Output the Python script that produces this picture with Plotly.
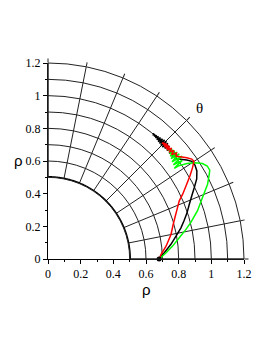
import numpy as np
import plotly.graph_objects as go

# ---- data (rho, theta in degrees) ----
black_theta = [0, 3.1, 6.8, 10.1, 13.2, 15.6, 18.2, 21.2, 23.9, 26.05, 28.3, 30.6, 32.6, 34.2, 35.5, 37.0, 38.3,
               39.0, 39.7, 40.4, 41.1, 41.8, 42.4, 43.0, 43.5, 44.0, 44.4, 44.8, 45.2, 45.6, 46.0, 46.4,
               46.8, 47.2, 47.6, 48.0, 48.4, 48.75, 49.1, 49.4, 49.7, 49.9, 50.1]
black_rho = [0.680, 0.713, 0.758, 0.796, 0.836, 0.864, 0.895, 0.928, 0.964, 0.997, 1.034, 1.059, 1.068, 1.064, 1.044, 1.014, 0.988,
             1.015, 0.985, 1.015, 0.985, 1.015, 0.986, 1.015, 0.985, 1.02, 0.98, 1.022, 0.98, 1.02, 0.983, 1.016,
             0.986, 1.013, 0.989, 1.01, 0.992, 1.007, 0.994, 1.005, 0.997, 1.002, 1.0]

red_theta = [0, 2.4, 6.2, 11.3, 15.0, 18.5, 20.5, 23.9, 25.7, 27.9, 30.4, 32.3, 33.8, 34.8, 36.1, 37.7, 38.7,
             39.5, 40.2, 40.8, 41.4, 41.9, 42.4, 42.8, 43.2, 43.55, 43.9, 44.2, 44.5, 44.75, 45.0, 45.2, 45.35, 45.5]
red_rho = [0.680, 0.693, 0.727, 0.768, 0.792, 0.821, 0.841, 0.879, 0.915, 0.956, 1.008, 1.047, 1.075, 1.072, 1.052, 1.023, 1.005,
           1.02, 0.99, 1.018, 0.99, 1.016, 0.99, 1.015, 0.99, 1.014, 0.991, 1.012, 0.993, 1.008, 0.996, 1.004, 0.998, 1.0]

green_theta = [0, 3.0, 5.9, 9.2, 12.1, 14.4, 17.9, 21.7, 25.1, 27.7, 28.8, 30.3, 31.7, 33.2, 34.5, 35.5, 35.7,
               36.3, 36.9, 37.5, 38.1, 38.7, 39.2, 39.7, 40.1, 40.5, 40.85, 41.15, 41.4, 41.65, 41.85, 42.0, 42.15, 42.3]
green_rho = [0.680, 0.724, 0.767, 0.814, 0.864, 0.903, 0.962, 1.018, 1.079, 1.115, 1.130, 1.129, 1.112, 1.075, 1.032, 0.982, 0.952,
             1.02, 0.96, 1.035, 0.965, 1.03, 0.972, 1.025, 0.978, 1.02, 0.985, 1.015, 0.99, 1.011, 0.993, 1.007, 0.997, 1.005]

start_rho = [0.68]
start_theta = [0]

inner_rho = 0.5
rho_range = [0.5, 1.2]
theta_step = 11.25
tick_vals = [0, 0.2, 0.4, 0.6, 0.8, 1, 1.2]
minor_vals = [0.1, 0.3, 0.5, 0.7, 0.9, 1.1]

fig = go.Figure()

# invisible trace to create cartesian axes
fig.add_trace(go.Scatter(x=[None], y=[None], showlegend=False, hoverinfo="skip"))

circ_theta = np.linspace(0, 90, 181)
fig.add_trace(go.Scatterpolar(r=np.full(circ_theta.shape, inner_rho), theta=circ_theta, mode="lines",
                              line=dict(color="black", width=2.6), cliponaxis=False, showlegend=False))

for th, rh, col in [(black_theta, black_rho, "black"), (green_theta, green_rho, "#00ff00"), (red_theta, red_rho, "#ff0000")]:
    fig.add_trace(go.Scatterpolar(r=rh, theta=th, mode="lines", line=dict(color=col, width=1.5),
                                  cliponaxis=False, showlegend=False))

fig.add_trace(go.Scatterpolar(r=start_rho, theta=start_theta, mode="markers",
                              marker=dict(color="black", size=5), cliponaxis=False, showlegend=False))

serif = "Times New Roman, Liberation Serif, serif"
axis_common = dict(range=[0, 1.2], tickvals=tick_vals, ticks="outside", ticklen=4, tickcolor="black",
                   showline=True, linecolor="black", linewidth=1, showgrid=False, zeroline=False,
                   tickfont=dict(family=serif, size=12, color="black"),
                   minor=dict(tickvals=minor_vals, ticks="outside", ticklen=2, tickcolor="black"),
                   fixedrange=True)
fig.update_layout(
    width=272, height=352,
    margin=dict(l=40, r=36, t=55, b=101),
    paper_bgcolor="white", plot_bgcolor="rgba(0,0,0,0)",
    showlegend=False,
    xaxis=axis_common,
    yaxis=axis_common,
    polar=dict(
        domain=dict(x=[0, 1], y=[0, 1]),
        sector=[0, 90], hole=inner_rho / rho_range[1], bgcolor="rgba(0,0,0,0)",
        radialaxis=dict(range=rho_range, tick0=0.5, dtick=0.1, showgrid=True, gridcolor="#222222",
                        gridwidth=1, showticklabels=False, ticks="", showline=False),
        angularaxis=dict(tickmode="linear", tick0=0, dtick=theta_step, direction="counterclockwise",
                         rotation=0, showgrid=True, gridcolor="#222222", gridwidth=1,
                         showticklabels=False, ticks="outside", ticklen=4, tickcolor="#222222",
                         showline=True, linecolor="#222222", linewidth=1),
    ),
    annotations=[
        dict(text="θ", x=0.929, y=0.923, xref="x", yref="y", showarrow=False,
             font=dict(family=serif, size=15, color="black")),
        dict(text="ρ", x=0.5, y=-0.158, xref="paper", yref="paper", showarrow=False,
             xanchor="center", yanchor="middle", font=dict(family="Liberation Sans", size=15, color="black")),
        dict(text="ρ", x=-0.153, y=0.505, xref="paper", yref="paper", showarrow=False,
             xanchor="center", yanchor="middle", font=dict(family="Liberation Sans", size=15, color="black")),
    ],
)

fig.write_html("out.html")
